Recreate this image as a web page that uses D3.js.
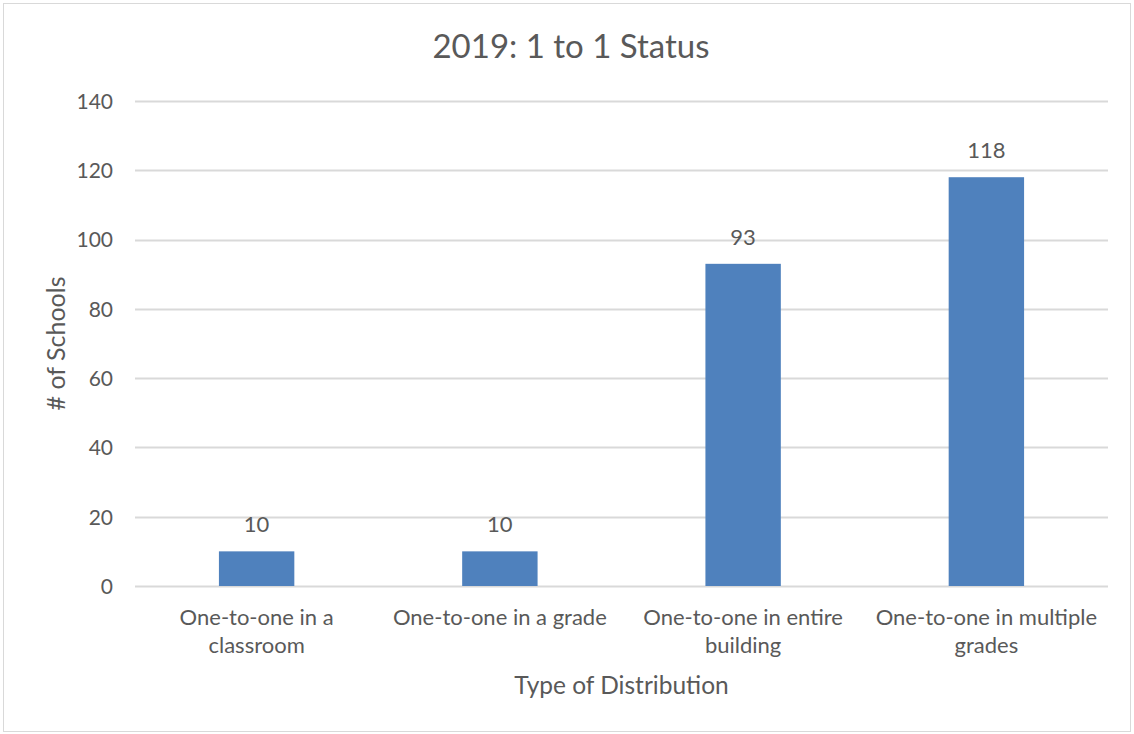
<!DOCTYPE html>
<html><head><meta charset="utf-8">
<script src="https://cdn.jsdelivr.net/npm/d3@7"></script>
<style>body{margin:0;background:#fff}svg{display:block}text{font-family:Lato,"Open Sans",sans-serif;fill:#595959}</style>
</head><body>
<svg id="c" width="1134" height="734"></svg>
<script>
const categories = [["One-to-one in a","classroom"],["One-to-one in a grade"],["One-to-one in entire","building"],["One-to-one in multiple","grades"]];
const values = [10, 10, 93, 118];
const yTicks = [0,20,40,60,80,100,120,140];
const title = "2019: 1 to 1 Status";
const xTitle = "Type of Distribution";
const yTitle = "# of Schools";

(function(){
const svg = d3.select("#c");
svg.append("rect").attr("x",3.5).attr("y",3.5).attr("width",1127).attr("height",728).attr("fill","#fff").attr("stroke","#d9d9d9").attr("stroke-width",1);

const pL=135, pR=1108, pT=101, pB=586;
const x = d3.scaleBand().domain(d3.range(values.length)).range([pL,pR]).paddingInner(0.69).paddingOuter(0.345);
const y = d3.scaleLinear().domain([0,140]).range([pB,pT]);

const g = svg.append("g");
g.selectAll("line.grid").data(yTicks).join("line").attr("class","grid")
  .attr("x1",pL).attr("x2",pR).attr("y1",d=>Math.round(y(d))+0.5).attr("y2",d=>Math.round(y(d))+0.5)
  .attr("stroke","#d9d9d9").attr("stroke-width",2);

const yAxis = d3.axisLeft(y).tickValues(yTicks).tickSize(0).tickPadding(0);
const ya = svg.append("g").attr("transform",`translate(${pL-22},0)`).call(yAxis);
ya.select(".domain").remove();
ya.selectAll("text").style("font-size","21px").style("font-family","Lato").attr("fill","#595959").attr("dy","0.35em");

g.selectAll("rect.bar").data(values).join("rect").attr("class","bar")
  .attr("x",(d,i)=>x(i)).attr("width",x.bandwidth())
  .attr("y",d=>y(d)).attr("height",d=>y(0)-y(d)).attr("fill","#4f81bd");

g.selectAll("text.lbl").data(values).join("text").attr("class","lbl")
  .attr("x",(d,i)=>x(i)+x.bandwidth()/2).attr("y",d=>y(d)-19)
  .attr("text-anchor","middle").style("font-size","22px").text(d=>d);

const xa = svg.append("g");
categories.forEach((lines,i)=>{
  const t = xa.append("text").attr("x",x(i)+x.bandwidth()/2).attr("y",625).attr("text-anchor","middle").style("font-size","22px");
  lines.forEach((l,j)=>t.append("tspan").attr("x",x(i)+x.bandwidth()/2).attr("dy",j?28:0).text(l));
});

svg.append("text").attr("x",571).attr("y",58).attr("text-anchor","middle").style("font-size","33px").text(title);
svg.append("text").attr("x",(pL+pR)/2).attr("y",694).attr("text-anchor","middle").style("font-size","24.5px").text(xTitle);
svg.append("text").attr("transform",`translate(65,${(pT+pB)/2}) rotate(-90)`).attr("text-anchor","middle").style("font-size","25px").text(yTitle);
})();
</script>
</body></html>
